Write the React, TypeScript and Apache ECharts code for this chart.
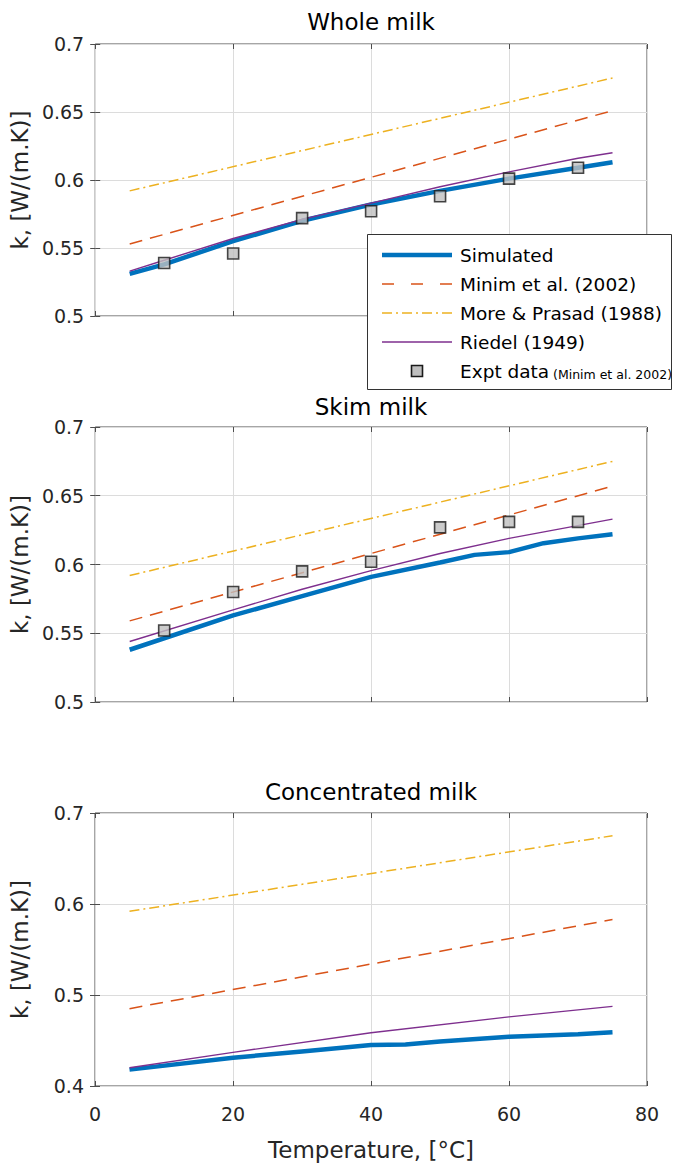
import React, { useEffect, useRef } from "react";
import * as echarts from "echarts";

// ---------- data ----------
const titles = ["Whole milk", "Skim milk", "Concentrated milk"];
const xTicks = [0, 20, 40, 60, 80];
const exptT = [10, 20, 30, 40, 50, 60, 70];
const lineT = [5, 75];

// Whole milk
const wholeSimT = [5, 10, 20, 30, 40, 50, 60, 70, 75];
const wholeSim = [0.531, 0.538, 0.555, 0.57, 0.582, 0.592, 0.601, 0.609, 0.613];
const wholeRiedelT = [5, 10, 20, 30, 40, 50, 60, 70, 75];
const wholeRiedel = [0.533, 0.541, 0.557, 0.571, 0.583, 0.595, 0.606, 0.616, 0.62];
const wholeMinim = [0.553, 0.651];
const wholeMore = [0.592, 0.675];
const wholeExpt = [0.539, 0.546, 0.572, 0.577, 0.588, 0.601, 0.609];

// Skim milk
const skimSimT = [5, 20, 30, 40, 50, 55, 60, 65, 70, 75];
const skimSim = [0.538, 0.563, 0.577, 0.591, 0.6015, 0.607, 0.609, 0.6155, 0.619, 0.622];
const skimRiedelT = [5, 20, 30, 40, 50, 60, 75];
const skimRiedel = [0.544, 0.567, 0.582, 0.5955, 0.608, 0.619, 0.633];
const skimMinim = [0.559, 0.657];
const skimMore = [0.592, 0.675];
const skimExpt = [0.552, 0.58, 0.595, 0.602, 0.627, 0.631, 0.631];

// Concentrated milk
const concSimT = [5, 20, 30, 40, 45, 50, 60, 70, 75];
const concSim = [0.418, 0.431, 0.438, 0.445, 0.4455, 0.449, 0.454, 0.457, 0.459];
const concRiedelT = [5, 20, 40, 60, 75];
const concRiedel = [0.42, 0.437, 0.4585, 0.476, 0.4875];
const concMinim = [0.485, 0.583];
const concMore = [0.592, 0.675];

const yRanges = [
  { min: 0.5, max: 0.7, interval: 0.05 },
  { min: 0.5, max: 0.7, interval: 0.05 },
  { min: 0.4, max: 0.7, interval: 0.1 },
];

const legendNames = [
  "Simulated",
  "Minim et al. (2002)",
  "More & Prasad (1988)",
  "Riedel (1949)",
  "Expt data",
];
const legendNote = "(Minim et al. 2002)";

// ---------- styles ----------
const FONT = "DejaVu Sans";
const C_SIM = "#0072BD";
const C_MINIM = "#D95319";
const C_MORE = "#EDB120";
const C_RIEDEL = "#7E2F8E";
const AXIS = "#4d4d4d";
const LABEL = "#262626";
const GRIDC = "#dcdcdc";

const gridTops = [44, 427, 813];
const gridHeights = [272, 275, 273];
const titleTops = [10.5, 395.5, 780.5];
const LEFT = 95;
const WIDTH = 552;

const zip = (xs: number[], ys: number[]) => xs.map((x, i) => [x, ys[i]]);

export default function App() {
  const ref = useRef<HTMLDivElement>(null);

  useEffect(() => {
    if (!ref.current) return;
    const chart = echarts.init(ref.current, undefined, { renderer: "svg" });

    const panels = [
      { sim: zip(wholeSimT, wholeSim), riedel: zip(wholeRiedelT, wholeRiedel), minim: zip(lineT, wholeMinim), more: zip(lineT, wholeMore), expt: zip(exptT, wholeExpt) },
      { sim: zip(skimSimT, skimSim), riedel: zip(skimRiedelT, skimRiedel), minim: zip(lineT, skimMinim), more: zip(lineT, skimMore), expt: zip(exptT, skimExpt) },
      { sim: zip(concSimT, concSim), riedel: zip(concRiedelT, concRiedel), minim: zip(lineT, concMinim), more: zip(lineT, concMore), expt: null as any },
    ];

    const grid = gridTops.map((t, i) => ({
      left: LEFT,
      top: t,
      width: WIDTH,
      height: gridHeights[i],
      show: true,
      borderColor: AXIS,
      borderWidth: 1,
      backgroundColor: "transparent",
    }));

    const xAxis: any[] = [];
    const yAxis: any[] = [];
    gridTops.forEach((_, i) => {
      const last = i === 2;
      xAxis.push({
        type: "value",
        gridIndex: i,
        min: 0,
        max: 80,
        interval: 20,
        position: "bottom",
        axisLine: { show: false },
        axisTick: { show: true, inside: true, length: 5, lineStyle: { color: AXIS } },
        axisLabel: {
          show: last,
          margin: 18,
          fontSize: 19,
          fontFamily: FONT,
          color: LABEL,
          customValues: xTicks,
        },
        splitLine: { show: true, lineStyle: { color: GRIDC, width: 1 } },
        name: last ? "Temperature, [°C]" : "",
        nameLocation: "middle",
        nameGap: 52,
        nameTextStyle: { fontSize: 23, fontFamily: FONT, color: LABEL },
      });
      xAxis.push({
        type: "value",
        gridIndex: i,
        min: 0,
        max: 80,
        interval: 20,
        position: "top",
        axisLine: { show: false },
        axisTick: { show: true, inside: true, length: 5, lineStyle: { color: AXIS } },
        axisLabel: { show: false },
        splitLine: { show: false },
      });
      const r = yRanges[i];
      yAxis.push({
        type: "value",
        gridIndex: i,
        min: r.min,
        max: r.max,
        interval: r.interval,
        position: "left",
        axisLine: { show: false },
        axisTick: { show: true, inside: true, length: 5, lineStyle: { color: AXIS } },
        axisLabel: {
          margin: 11,
          fontSize: 19,
          fontFamily: FONT,
          color: LABEL,
          formatter: (v: number) => String(parseFloat(v.toFixed(3))),
        },
        splitLine: { show: true, lineStyle: { color: GRIDC, width: 1 } },
        name: "k, [W/(m.K)]",
        nameLocation: "middle",
        nameGap: 64,
        nameRotate: 90,
        nameTextStyle: { fontSize: 23, fontFamily: FONT, color: LABEL },
      });
      yAxis.push({
        type: "value",
        gridIndex: i,
        min: r.min,
        max: r.max,
        interval: r.interval,
        position: "right",
        axisLine: { show: false },
        axisTick: { show: true, inside: true, length: 5, lineStyle: { color: AXIS } },
        axisLabel: { show: false },
        splitLine: { show: false },
      });
    });

    const series: any[] = [];
    panels.forEach((p, i) => {
      const xi = 2 * i;
      const yi = 2 * i;
      series.push({
        name: legendNames[0], type: "line", xAxisIndex: xi, yAxisIndex: yi, data: p.sim,
        showSymbol: false, symbol: "none", lineStyle: { color: C_SIM, width: 4.5 }, z: 3,
      });
      series.push({
        name: legendNames[1], type: "line", xAxisIndex: xi, yAxisIndex: yi, data: p.minim,
        showSymbol: false, symbol: "none", lineStyle: { color: C_MINIM, width: 1.5, type: [13, 8] }, z: 4,
      });
      series.push({
        name: legendNames[2], type: "line", xAxisIndex: xi, yAxisIndex: yi, data: p.more,
        showSymbol: false, symbol: "none", lineStyle: { color: C_MORE, width: 1.5, type: [10, 4, 2, 4] }, z: 4,
      });
      series.push({
        name: legendNames[3], type: "line", xAxisIndex: xi, yAxisIndex: yi, data: p.riedel,
        showSymbol: false, symbol: "none", lineStyle: { color: C_RIEDEL, width: 1.4 }, z: 5,
      });
      if (p.expt) {
        series.push({
          name: legendNames[4], type: "scatter", xAxisIndex: xi, yAxisIndex: yi, data: p.expt,
          symbol: "rect", symbolSize: 11,
          itemStyle: { color: "#bfbfbf", borderColor: "#1a1a1a", borderWidth: 1.6 }, z: 6,
        });
      }
    });

    // legend box (drawn as graphics, positioned like the reference)
    const LX = 367.5, LY = 234.5, LW = 304, LH = 155;
    const rowY = [255, 284, 313, 342, 371];
    const sx1 = 382, sx2 = 452, tx = 460;
    const graphic: any[] = [
      { type: "rect", z: 100, shape: { x: LX, y: LY, width: LW, height: LH }, style: { fill: "#fff", stroke: "#333", lineWidth: 1 } },
      { type: "line", z: 101, shape: { x1: sx1, y1: rowY[0], x2: sx2, y2: rowY[0] }, style: { stroke: C_SIM, lineWidth: 4.5 } },
      { type: "line", z: 101, shape: { x1: sx1, y1: rowY[1], x2: sx2, y2: rowY[1] }, style: { stroke: C_MINIM, lineWidth: 1.5, lineDash: [12, 17] } },
      { type: "line", z: 101, shape: { x1: sx1, y1: rowY[2], x2: sx2, y2: rowY[2] }, style: { stroke: C_MORE, lineWidth: 1.5, lineDash: [10, 4, 2, 4] } },
      { type: "line", z: 101, shape: { x1: sx1, y1: rowY[3], x2: sx2, y2: rowY[3] }, style: { stroke: C_RIEDEL, lineWidth: 1.4 } },
      { type: "rect", z: 101, shape: { x: 417 - 5.5, y: rowY[4] - 5.5, width: 11, height: 11 }, style: { fill: "#bfbfbf", stroke: "#1a1a1a", lineWidth: 1.6 } },
    ];
    legendNames.forEach((n, k) => {
      graphic.push({
        type: "text", z: 101, x: tx, y: rowY[k],
        style: { text: n, fontSize: 18.5, fontFamily: FONT, fill: "#000", textVerticalAlign: "middle", verticalAlign: "middle" },
      });
    });
    graphic.push({
      type: "text", z: 101, x: 553, y: rowY[4] + 3,
      style: { text: legendNote, fontSize: 12.5, fontFamily: FONT, fill: "#000", verticalAlign: "middle", textVerticalAlign: "middle" },
    });

    chart.setOption({
      animation: false,
      backgroundColor: "#ffffff",
      textStyle: { fontFamily: FONT },
      title: titles.map((t, i) => ({
        text: t,
        left: LEFT + WIDTH / 2,
        top: titleTops[i],
        textAlign: "center",
        padding: 0,
        textStyle: { fontSize: 23, fontWeight: "normal", color: "#000", fontFamily: FONT },
      })),
      grid,
      xAxis,
      yAxis,
      series,
      graphic,
    });

    return () => chart.dispose();
  }, []);

  return (
    <div
      ref={ref}
      style={{ position: "absolute", left: 0, top: 0, width: 673, height: 1165, background: "#fff" }}
    />
  );
}
